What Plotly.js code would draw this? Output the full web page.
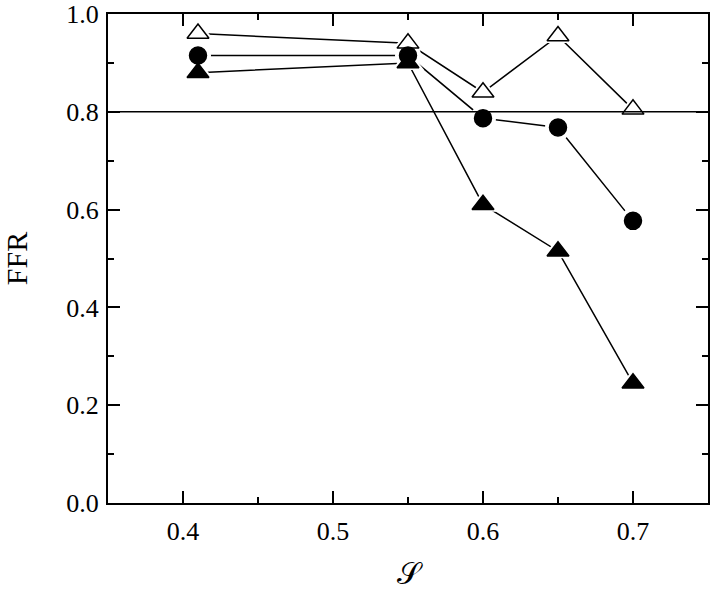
<!DOCTYPE html>
<html>
<head>
<meta charset="utf-8">
<script src="https://cdn.plot.ly/plotly-3.0.1.min.js"></script>
<style>
  body { margin: 0; background: #fff; }
  #chart { width: 711px; height: 591px; }
</style>
</head>
<body>
<div id="chart"></div>
<script>
// S values on the x axis
const sValues = [0.41, 0.55, 0.60, 0.65, 0.70];

// FFR for each series
const ffrOpenTri = [0.960, 0.940, 0.840, 0.955, 0.805];
const ffrCircle = [0.915, 0.915, 0.787, 0.768, 0.577];
const ffrFilledTri = [0.880, 0.900, 0.610, 0.515, 0.245];

const threshold = 0.8;

const xTicks = [0.4, 0.5, 0.6, 0.7];
const yTicks = [0.0, 0.2, 0.4, 0.6, 0.8, 1.0];

const font = "Liberation Serif, Times New Roman, serif";

const seriesList = [
  { y: ffrOpenTri, symbol: "triangle-up", fill: "#fff", size: 19 },
  { y: ffrFilledTri, symbol: "triangle-up", fill: "#000", size: 19 },
  { y: ffrCircle, symbol: "circle", fill: "#000", size: 17 }
];

// all lines first, then white halos (gap around markers), then the markers
const lines = seriesList.map(s => ({
  x: sValues, y: s.y, mode: "lines", type: "scatter",
  line: { color: "#000", width: 1.5 }
}));
const halos = seriesList.map(s => ({
  x: sValues, y: s.y, mode: "markers", type: "scatter",
  marker: { symbol: s.symbol, size: s.size + 9, color: "#fff", line: { width: 0 } }
}));
const marks = seriesList.map(s => ({
  x: sValues, y: s.y, mode: "markers", type: "scatter",
  marker: { symbol: s.symbol, size: s.size, color: s.fill, line: { color: "#000", width: 1.5 } }
}));

const data = lines.concat(halos, marks);

const axisCommon = {
  showgrid: false, zeroline: false,
  showline: true, linecolor: "#000", linewidth: 2, mirror: "ticks",
  ticks: "inside", ticklen: 12, tickwidth: 2, tickcolor: "#000",
  tickfont: { family: font, size: 26, color: "#000" },
  minor: { ticks: "inside", ticklen: 6, tickwidth: 2, tickcolor: "#000" }
};

const layout = {
  width: 711, height: 591,
  margin: { l: 108, r: 3, t: 14, b: 88 },
  paper_bgcolor: "#fff", plot_bgcolor: "#fff",
  showlegend: false,
  xaxis: Object.assign({}, axisCommon, {
    range: [0.35, 0.75],
    tickvals: xTicks, ticktext: xTicks.map(v => v.toFixed(1)),
    ticklabelstandoff: 4,
    minor: Object.assign({}, axisCommon.minor, { tickvals: [0.45, 0.55, 0.65] }),
    title: { text: "𝒮", font: { family: "DejaVu Sans, " + font, size: 30, color: "#000" }, standoff: 18 }
  }),
  yaxis: Object.assign({}, axisCommon, {
    range: [0, 1],
    tickvals: yTicks, ticktext: yTicks.map(v => v.toFixed(1)),
    ticklabelstandoff: 2,
    minor: Object.assign({}, axisCommon.minor, { tickvals: [0.1, 0.3, 0.5, 0.7, 0.9] }),
    title: { text: "FFR", font: { family: font, size: 30, color: "#000" }, standoff: 32 }
  }),
  shapes: [{
    type: "line", xref: "paper", yref: "y", x0: 0, x1: 1, y0: threshold, y1: threshold,
    line: { color: "#000", width: 1.5 }, layer: "above"
  }]
};

Plotly.newPlot("chart", data, layout, { displayModeBar: false, staticPlot: true });
</script>
</body>
</html>
